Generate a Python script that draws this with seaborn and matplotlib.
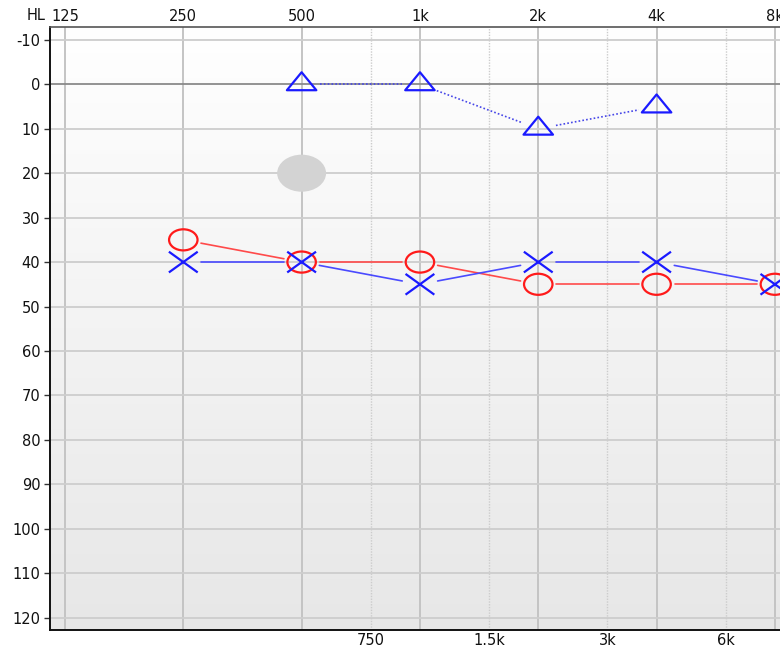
import numpy as np
import pandas as pd
import matplotlib
matplotlib.use("Agg")
import matplotlib.pyplot as plt
from matplotlib.path import Path
from matplotlib.markers import MarkerStyle
from matplotlib.colors import LinearSegmentedColormap
import seaborn as sns

# --- audiogram data -------------------------------------------------------
freq_major = [125, 250, 500, 1000, 2000, 4000, 8000]
freq_major_labels = ["125", "250", "500", "1k", "2k", "4k", "8k"]
freq_minor = [750, 1500, 3000, 6000]
freq_minor_labels = ["750", "1.5k", "3k", "6k"]
db_ticks = list(range(-10, 121, 10))

right_freq = [250, 500, 1000, 2000, 4000, 8000]
right_db = [35, 40, 40, 45, 45, 45]

left_freq = [250, 500, 1000, 2000, 4000, 8000]
left_db = [40, 40, 45, 40, 40, 45]

bone_freq = [500, 1000, 2000, 4000]
bone_db = [0, 0, 10, 5]

ucl_freq = [500]
ucl_db = [20]

sns.set_theme(style="white")
plt.rcParams["font.family"] = ["DejaVu Sans"]
FS = 10.5

W, H, DPI = 780, 649, 100
fig = plt.figure(figsize=(W / DPI, H / DPI), dpi=DPI)
fig.patch.set_facecolor("white")

left_px, right_px, top_px, bot_px = 50, 790, 27, 630
pos = [left_px / W, (H - bot_px) / H, (right_px - left_px) / W, (bot_px - top_px) / H]

# gradient backdrop
bg = fig.add_axes(pos, zorder=0)
cmap = LinearSegmentedColormap.from_list("bg", ["#ffffff", "#e7e7e7"])
bg.imshow(np.linspace(0, 1, 256).reshape(-1, 1), cmap=cmap, aspect="auto",
          extent=[0, 1, 0, 1], origin="upper")
bg.axis("off")

ax = fig.add_axes(pos, zorder=1)
ax.patch.set_alpha(0)
ax.set_xscale("log")
ax.set_xlim(114.5, 8740)
ax.set_ylim(122.8, -12.9)

# grid
for f in freq_major:
    ax.axvline(f, color="#c4c4c4", lw=1.4, zorder=1)
for f in freq_minor:
    ax.axvline(f, color="#cccccc", lw=1.0, ls=(0, (1, 1)), zorder=1)
for d in db_ticks:
    ax.axhline(d, color="#8a8a8a" if d == 0 else "#cdcdcd", lw=1.3, zorder=1)

# ticks and labels
ax.xaxis.tick_top()
ax.set_xticks(freq_major)
ax.set_xticklabels(freq_major_labels)
ax.xaxis.set_minor_locator(matplotlib.ticker.NullLocator())
ax.tick_params(axis="x", which="both", length=0, pad=2, labelsize=FS, colors="#111111")
ax.set_yticks(db_ticks)
ax.set_yticklabels([str(d) for d in db_ticks])
ax.tick_params(axis="y", length=4, width=1, color="#333333", pad=3,
               labelsize=FS, labelcolor="#111111", left=True)
sec = ax.secondary_xaxis("bottom")
sec.set_xticks(freq_minor)
sec.set_xticklabels(freq_minor_labels)
sec.xaxis.set_minor_locator(matplotlib.ticker.NullLocator())
sec.tick_params(length=0, pad=2, labelsize=FS, colors="#111111")
sec.spines["bottom"].set_visible(False)
ax.annotate("HL", xy=(0, 1), xycoords="axes fraction", xytext=(-3, 8),
            textcoords="offset points", ha="right", va="center",
            fontsize=FS, color="#111111")

for s in ["left", "bottom"]:
    ax.spines[s].set_color("#111111")
    ax.spines[s].set_linewidth(1.4)
ax.spines["top"].set_color("#555555")
ax.spines["top"].set_linewidth(1.2)
ax.spines["right"].set_visible(False)

# markers (wide aspect)
def ellipse_path(ax_ratio):
    c = Path.unit_circle()
    return Path(c.vertices * np.array([ax_ratio, 1.0]), c.codes)

circle_m = MarkerStyle(ellipse_path(1.35))
blob_m = MarkerStyle(ellipse_path(1.32))
tri_m = MarkerStyle(Path([(-1, -0.4), (1, -0.4), (0, 0.82), (-1, -0.4)],
                         [Path.MOVETO, Path.LINETO, Path.LINETO, Path.CLOSEPOLY]))
x_m = MarkerStyle(Path([(-1, -0.72), (1, 0.72), (-1, 0.72), (1, -0.72)],
                       [Path.MOVETO, Path.LINETO, Path.MOVETO, Path.LINETO]))


def gapped_segments(xs, ys, gap_px):
    """Connecting segments trimmed so they stop short of each marker."""
    rows = []
    pts = ax.transData.transform(np.column_stack([xs, ys]))
    inv = ax.transData.inverted()
    for i in range(len(pts) - 1):
        p0, p1 = pts[i], pts[i + 1]
        d = p1 - p0
        u = d / np.hypot(*d)
        a = inv.transform(p0 + u * gap_px)
        b = inv.transform(p1 - u * gap_px)
        rows.append({"seg": i, "f": a[0], "db": a[1]})
        rows.append({"seg": i, "f": b[0], "db": b[1]})
    return pd.DataFrame(rows)


red_seg = gapped_segments(right_freq, right_db, 18)
blue_seg = gapped_segments(left_freq, left_db, 18)
bone_seg = gapped_segments(bone_freq, bone_db, 18)

sns.lineplot(data=red_seg, x="f", y="db", units="seg", estimator=None,
             color="#ff4a4a", lw=1.2, ax=ax, zorder=3, sort=False)
sns.lineplot(data=blue_seg, x="f", y="db", units="seg", estimator=None,
             color="#4a4aff", lw=1.2, ax=ax, zorder=3, sort=False)
sns.lineplot(data=bone_seg, x="f", y="db", units="seg", estimator=None,
             color="#4646e8", lw=1.2, ls=(0, (1, 1.3)), ax=ax, zorder=3, sort=False)

sns.scatterplot(x=ucl_freq, y=ucl_db, marker=blob_m, s=1240,
                facecolor="#d3d3d3", edgecolor="none", linewidth=0, ax=ax, zorder=2)
sns.scatterplot(x=right_freq, y=right_db, marker=circle_m, s=420,
                facecolor="none", edgecolor="#ff1a1a", linewidth=1.6, ax=ax, zorder=4)
sns.scatterplot(x=left_freq, y=left_db, marker=x_m, s=430,
                facecolor="none", edgecolor="#1a1aff", linewidth=1.6, ax=ax, zorder=5)
sns.scatterplot(x=bone_freq, y=bone_db, marker=tri_m, s=450,
                facecolor="none", edgecolor="#1a1aff", linewidth=1.6, ax=ax, zorder=5)

ax.set_xlim(114.5, 8740)
ax.set_ylim(122.8, -12.9)
ax.set_xlabel("")
ax.set_ylabel("")

fig.savefig("out.png", dpi=DPI)
